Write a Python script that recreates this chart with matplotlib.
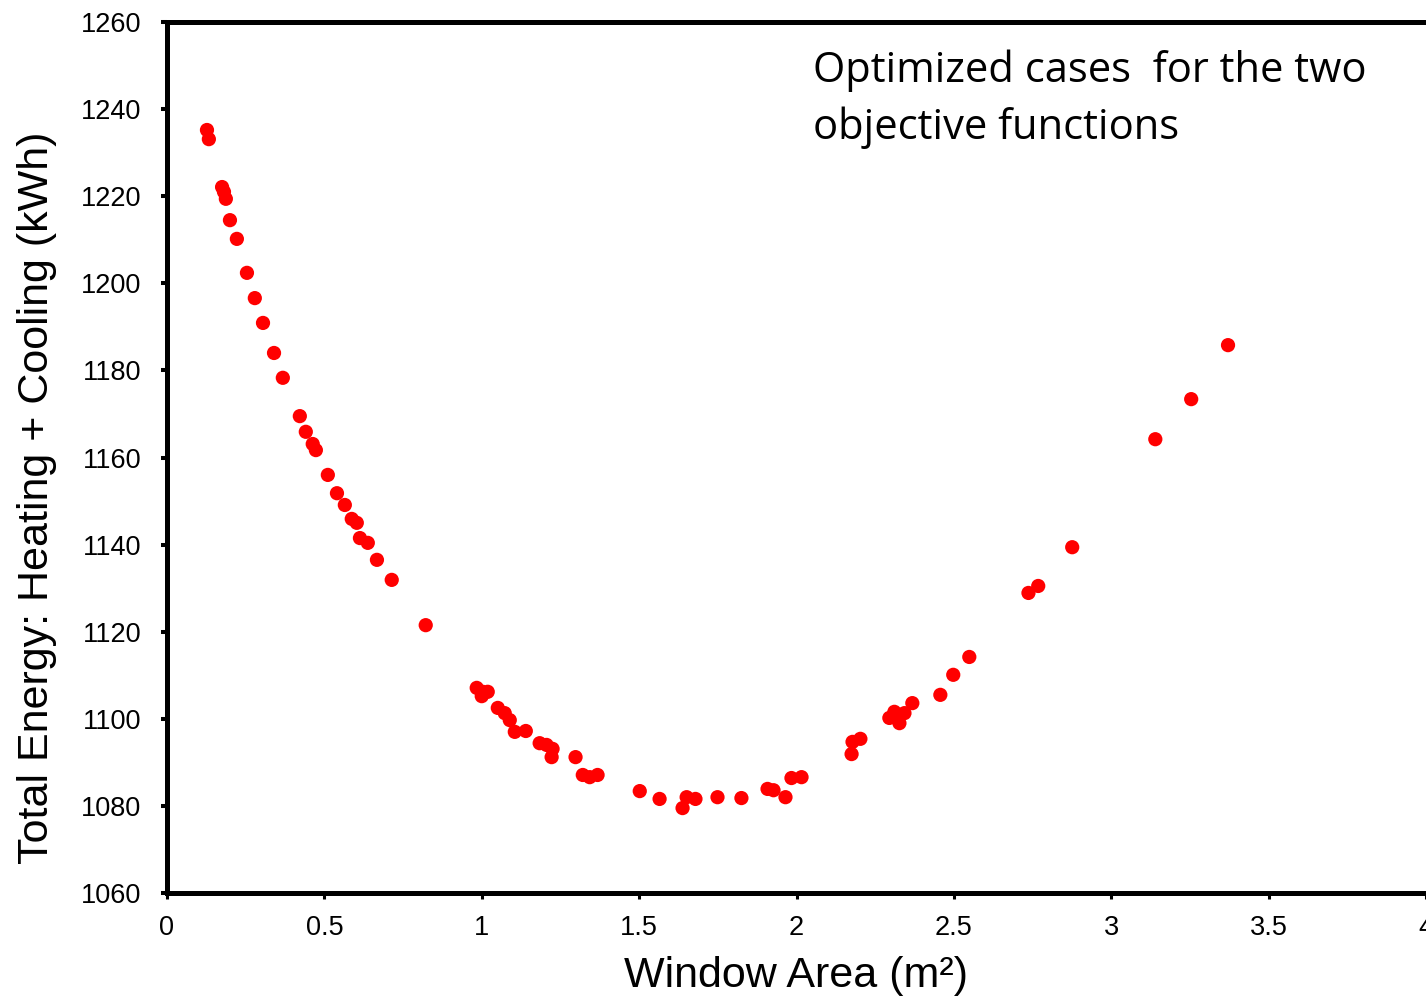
import numpy as np
from matplotlib import pyplot as plt

# window area (m2) and total energy (kWh) of the optimized cases
area = [0.127, 0.133, 0.175, 0.181, 0.187, 0.200, 0.222, 0.254, 0.279, 0.305,
        0.340, 0.368, 0.422, 0.441, 0.463, 0.473, 0.511, 0.540, 0.565, 0.587,
        0.603, 0.613, 0.638, 0.667, 0.714, 0.822,
        0.984, 1.003, 1.019, 1.000, 1.051, 1.073, 1.089, 1.105, 1.140, 1.184,
        1.206, 1.225, 1.222, 1.298, 1.321, 1.343, 1.368, 1.502, 1.565, 1.638,
        1.651, 1.679, 1.749, 1.825, 1.908, 1.927, 1.965, 1.984, 2.016,
        2.175, 2.178, 2.203, 2.295, 2.311, 2.327, 2.343, 2.368, 2.457, 2.498,
        2.549, 2.737, 2.768, 2.876, 3.140, 3.254, 3.371]
energy = [1235.2, 1233.1, 1222.1, 1221.0, 1219.4, 1214.5, 1210.2, 1202.4, 1196.6, 1190.9,
          1184.0, 1178.3, 1169.5, 1165.9, 1163.1, 1161.7, 1156.0, 1151.8, 1149.1, 1145.9,
          1145.0, 1141.5, 1140.4, 1136.5, 1131.9, 1121.5,
          1107.1, 1106.2, 1106.2, 1105.2, 1102.5, 1101.3, 1099.7, 1097.0, 1097.2, 1094.4,
          1094.0, 1093.1, 1091.2, 1091.2, 1087.1, 1086.6, 1087.1, 1083.4, 1081.6, 1079.5,
          1082.0, 1081.6, 1082.0, 1081.8, 1083.9, 1083.6, 1082.0, 1086.4, 1086.6,
          1091.9, 1094.7, 1095.4, 1100.2, 1101.6, 1099.0, 1101.3, 1103.6, 1105.5, 1110.1,
          1114.2, 1128.9, 1130.5, 1139.4, 1164.2, 1173.4, 1185.8]

xticks = [0, 0.5, 1, 1.5, 2, 2.5, 3, 3.5, 4]
xticklabels = ['0', '0.5', '1', '1.5', '2', '2.5', '3', '3.5', '4']
yticks = list(range(1060, 1261, 20))

plt.rcParams['font.family'] = ['Liberation Sans', 'DejaVu Sans']

fig = plt.figure(figsize=(14.26, 9.98), dpi=100)
ax = fig.add_axes([167/1426, 1-893/998, 1-167/1426, (893-22)/998])

ax.scatter(area, energy, s=105, color='#ff0000', edgecolors='none', zorder=3, clip_on=False)

ax.set_xlim(0, 4)
ax.set_ylim(1060, 1260)
ax.set_xticks(xticks)
ax.set_xticklabels(xticklabels)
ax.set_yticks(yticks)

for s in ['left', 'bottom', 'top']:
    ax.spines[s].set_linewidth(3.6)
ax.spines['right'].set_visible(False)

ax.tick_params(axis='y', direction='out', length=4.5, width=2.9, pad=14, labelsize=19.5)
ax.tick_params(axis='x', direction='out', length=4, width=2.2, pad=12, labelsize=19.5)

ax.set_xlabel('Window Area (m²)', fontsize=31)
ax.xaxis.set_label_coords(0.5, -0.072)
ax.set_ylabel('Total Energy: Heating + Cooling (kWh)', fontsize=31)
ax.yaxis.set_label_coords(-0.087, 0.454)

ax.text(0.513, 0.969, 'Optimized cases  for the two\nobjective functions',
        transform=ax.transAxes, ha='left', va='top', fontsize=30,
        family=['Open Sans', 'DejaVu Sans'], linespacing=1.45)

fig.savefig('out.png', dpi=100)
